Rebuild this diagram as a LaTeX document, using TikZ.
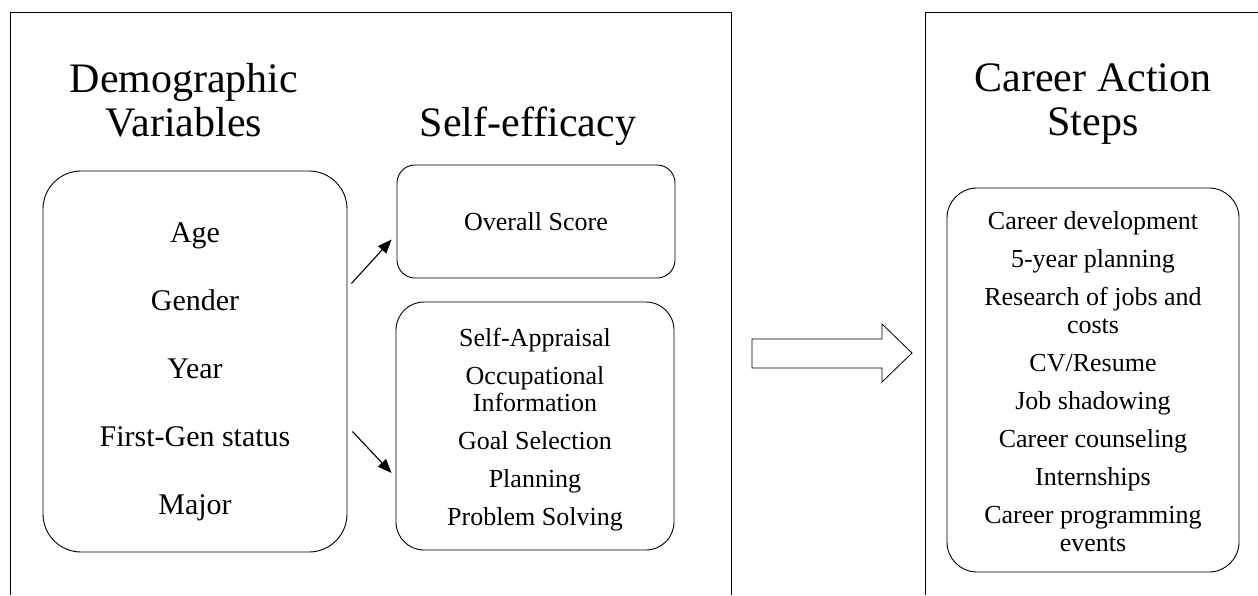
\documentclass[tikz,border=0pt]{standalone}
\usepackage{fontspec}
\setmainfont{Liberation Serif}
\usepackage{tikz}
\usetikzlibrary{positioning,arrows.meta}

\begin{document}
\begin{tikzpicture}[x=1pt, y=-1pt, line width=0.9pt,
    heading/.style={align=center, font=\fontsize{42}{44}\selectfont},
    listbox/.style={draw, align=center, inner sep=0pt, font=\fontsize{26}{27}\selectfont},
    link/.style={-{Triangle[length=14pt,width=11pt]}, line width=1.1pt}]
  \useasboundingbox (0,0) rectangle (1258,595);

  % the two panels, open at the bottom
  \draw (10,595) -- (10,12) -- (731,12) -- (731,595);
  \draw (925,595) -- (925,12) -- (1258,12);

  \node[heading] (demohead)  at (184,100) {Demographic\\Variables};
  \node[heading] (selfhead)  at (528,126) {Self-efficacy};
  \node[heading] (stepshead) at (1093,104) {Career Action\\Steps};

  % struts push the lists a little lower in their boxes
  \node[listbox, minimum width=304pt, minimum height=381pt, rounded corners=38pt,
        font=\fontsize{30}{34}\selectfont] (demo) at (195,361.5)
    {\rule{0pt}{40pt}Age\\[34pt] Gender\\[34pt] Year\\[34pt] First-Gen status\\[34pt] Major};

  \node[listbox, minimum width=278pt, minimum height=113pt, rounded corners=18pt]
    (overall) at (536,221.5) {Overall Score};
  \node[listbox, minimum width=278pt, minimum height=248pt, rounded corners=28pt]
    (facets) at (535,426)
    {\rule{0pt}{26pt}Self-Appraisal\\[11pt] Occupational\\Information\\[11pt] Goal Selection\\[11pt]
     Planning\\[11pt] Problem Solving};

  \node[listbox, minimum width=292pt, minimum height=384pt, rounded corners=30pt,
        font=\fontsize{26}{28}\selectfont] (steps) at (1093,380)
    {\rule{0pt}{21pt}Career development\\[10pt] 5-year planning\\[10pt] Research of jobs and\\costs\\[10pt]
     CV/Resume\\[10pt] Job shadowing\\[10pt] Career counseling\\[10pt] Internships\\[10pt]
     Career programming\\events};

  \draw[link] ([shift={(4,-78)}]demo.east) -- ([shift={(-5,18)}]overall.west);
  \draw[link] ([shift={(5,70)}]demo.east) -- ([shift={(-4,47)}]facets.west);

  % hollow block arrow between the panels
  \draw[line width=0.8pt] (752,339) -- (882,339) -- (882,324) -- (912,353)
    -- (882,382) -- (882,368) -- (752,368) -- cycle;
\end{tikzpicture}
\end{document}
